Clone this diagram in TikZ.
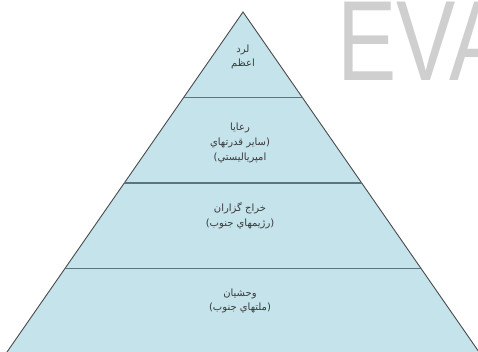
\documentclass[tikz,border=0pt]{standalone}
\usepackage{fontspec}
\setmainfont{Liberation Sans}
\newfontfamily\arabicfont[Script=Arabic]{DejaVu Sans}
\TeXXeTstate=1
\usetikzlibrary{calc}
\definecolor{layerFill}{HTML}{C4E3EB}
\definecolor{edgeStroke}{HTML}{4A4A4A}
\definecolor{rimStroke}{HTML}{5C7480}
\definecolor{labelText}{HTML}{3A3A3A}
\definecolor{markGray}{HTML}{CFCFCF}

\begin{document}
\begin{tikzpicture}[
  x=1pt,y=-1pt,
  layer/.style={fill=layerFill,draw=edgeStroke,line width=0.9pt,line join=miter},
  rim/.style={draw=rimStroke,line width=1.8pt},
  tier/.style={font=\arabicfont\fontsize{10}{14.8}\selectfont,text=labelText,align=center,inner sep=0pt},
  watermark/.style={font=\fontsize{114}{114}\selectfont,text=markGray,anchor=base west,inner sep=0pt}
]
\clip (0,0) rectangle (478,352);
% apex and base corners of the pyramid
\coordinate (apex) at (243,12);
\coordinate (baseL) at (5.6,354);
\coordinate (baseR) at (480.4,354);
\fill[white] (0,0) rectangle (478,352);
\node[watermark] (eva) at (337,81) {\scalebox{0.78}[1]{EVA}};
\draw[layer] (apex) -- (baseL) -- (baseR) -- cycle;
% three dividers at a quarter, half and three quarters of the height
\foreach \t in {0.25,0.5,0.75}
  \draw[rim] ($(apex)!\t!(baseL)$) -- ($(apex)!\t!(baseR)$);
\node[tier] (lord) at (243,57) {\beginR لرد\endR\\\beginR اعظم\endR};
\node[tier] (subjects) at (240,143) {\beginR رعايا\endR\\\beginR (ساير قدرتهاي\endR\\\beginR امپرياليستي)\endR};
\node[tier] (tribute) at (240,216) {\beginR خراج گزاران\endR\\\beginR (رژيمهاي جنوب)\endR};
\node[tier] (savages) at (240,301) {\beginR وحشيان\endR\\\beginR (ملتهاي جنوب)\endR};
\end{tikzpicture}
\end{document}
